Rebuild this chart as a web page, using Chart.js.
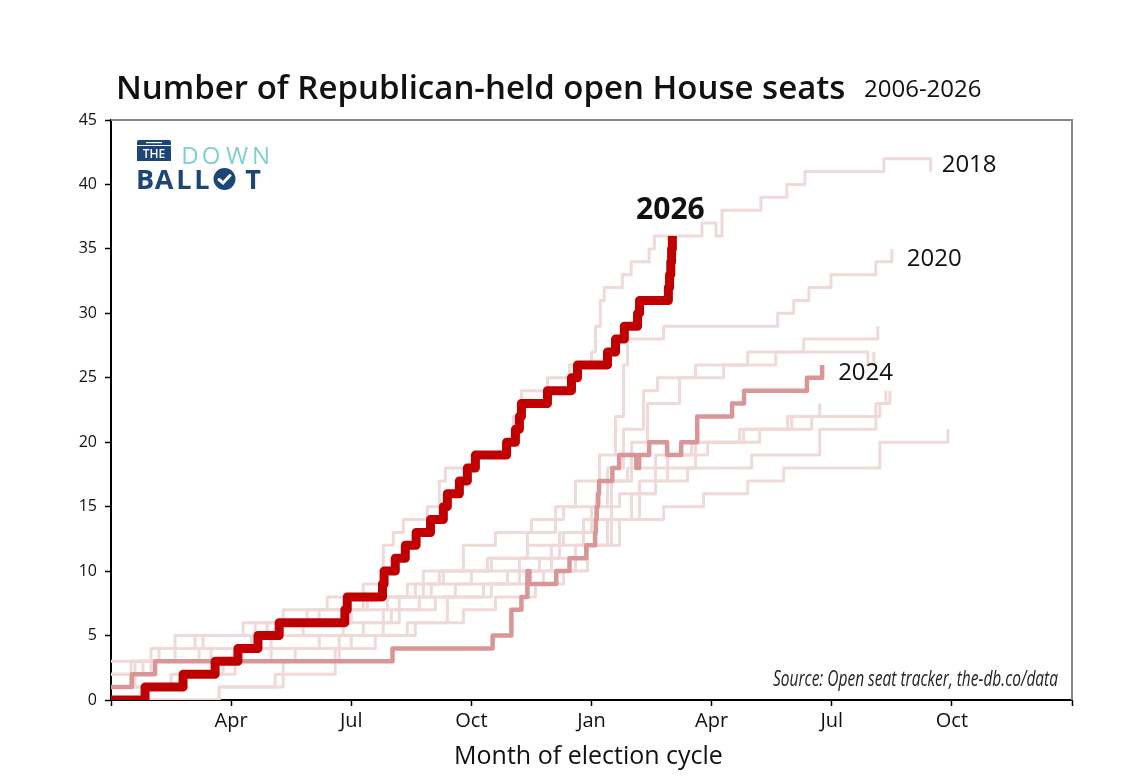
<!DOCTYPE html>
<html lang="en">
<head>
<meta charset="UTF-8">
<meta name="viewport" content="width=device-width, initial-scale=1.0">
<title>Number of Republican-held open House seats</title>
<script src="https://cdn.jsdelivr.net/npm/chart.js"></script>
<style>
    html, body { margin: 0; padding: 0; background: #fff; }
    #wrap { width: 1140px; height: 782px; }
</style>
</head>
<body>
<div id="wrap"><canvas id="openSeats"></canvas></div>
<script>
// x = months since Jan 1 of the odd year before the election, y = open seats from that month on
const monthTicks = ['', 'Apr', 'Jul', 'Oct', 'Jan', 'Apr', 'Jul', 'Oct', ''];

const seats2026 = [[0,0],[0.85,1],[1.8,2],[2.6,3],[3.17,4],[3.67,5],[4.2,6],[5.84,7],[5.9,8],[6.78,9],[6.82,10],[7.1,11],[7.35,12],[7.62,13],[7.98,14],[8.3,15],[8.4,16],[8.7,17],[8.9,18],[9.1,19],[9.88,20],[10.1,21],[10.2,22],[10.25,23],[10.9,24],[11.5,25],[11.65,26],[12.4,27],[12.6,28],[12.82,29],[13.15,30],[13.2,31],[13.92,32],[13.95,33],[13.98,34],[14.0,35],[14.02,36]];
const seats2024 = [[0,1],[0.52,2],[1.1,3],[7.03,4],[9.53,5],[10.0,7],[10.25,8],[10.4,10],[10.45,9],[11.12,10],[11.45,11],[11.87,12],[12.09,13],[12.11,14],[12.13,15],[12.16,16],[12.19,17],[12.52,18],[12.69,19],[13.12,18],[13.19,19],[13.44,20],[13.89,19],[14.24,20],[14.64,22],[15.51,23],[15.81,24],[17.38,25],[17.76,26]];
const seats2018 = [[0,1],[0.6,3],[1.2,4],[2.1,5],[3.6,6],[4.3,7],[5.4,8],[6.3,9],[6.8,12],[7.05,13],[7.3,14],[7.9,15],[8.2,17],[8.35,18],[9.15,19],[9.8,20],[10.05,22],[10.25,24],[10.9,25],[11.45,26],[12.0,27],[12.1,29],[12.22,31],[12.32,32],[12.77,33],[12.99,34],[13.44,35],[13.57,36],[14.76,37],[15.11,36],[15.26,38],[16.23,39],[16.88,40],[17.33,41],[19.3,42],[20.47,41]];
const seats2020 = [[0,2],[1.0,3],[2.2,4],[3.5,5],[4.8,6],[6.0,7],[6.9,8],[7.6,9],[8.3,10],[9.5,11],[10.4,13],[11.1,15],[11.6,17],[12.2,19],[12.6,22],[12.8,26],[12.9,28],[13.8,29],[16.65,30],[17.05,31],[17.43,32],[17.98,33],[19.1,34],[19.5,35]];
const seats2008 = [[0,1],[1.5,2],[2.8,3],[4.0,4],[5.2,5],[6.3,6],[7.2,8],[8.0,9],[9.0,10],[10.2,11],[11.2,13],[12.0,15],[12.4,18],[12.8,21],[13.3,24],[13.65,25],[14.6,26],[15.9,27],[17.3,28],[19.15,29]];
const seats2022 = [[0,0],[2.7,1],[4.1,2],[5.6,4],[6.6,5],[7.6,6],[8.4,8],[9.3,9],[10.2,10],[11.0,12],[11.8,14],[12.5,17],[13.0,20],[13.4,23],[14.2,25],[15.3,26],[16.6,27],[18.9,26],[19.05,27]];
const seats2012 = [[0,2],[0.8,3],[2.5,4],[4.0,5],[5.8,6],[7.0,7],[8.1,8],[9.5,9],[10.8,10],[11.6,12],[12.4,14],[13.2,17],[13.9,19],[14.9,20],[16.2,21],[17.0,22],[19.2,23],[19.45,24]];
const seats2010 = [[0,1],[1.8,2],[3.1,3],[4.6,4],[6.0,5],[7.4,6],[8.8,7],[9.6,8],[10.6,9],[11.3,10],[11.9,12],[12.5,14],[13.0,16],[13.6,18],[14.6,20],[15.7,21],[16.9,22],[17.7,23]];
const seats2006 = [[0,0],[2.7,1],[4.3,3],[5.7,5],[6.8,7],[7.7,8],[8.6,9],[9.9,10],[10.7,11],[11.6,12],[12.7,14],[13.8,15],[14.8,16],[15.9,17],[16.8,18],[19.2,20],[20.9,21]];
const seats2016 = [[0,1],[0.5,3],[1.6,5],[3.9,6],[5.2,7],[6.3,8],[7.8,10],[8.8,12],[9.6,13],[10.5,14],[11.3,15],[12.2,17],[12.9,18],[13.6,19],[14.5,20],[15.8,21],[17.5,22],[19.1,23],[19.35,24]];
const seats2014 = [[0,3],[1.0,4],[2.3,5],[3.3,6],[4.9,7],[6.4,8],[7.4,9],[8.2,10],[9.4,11],[10.4,12],[11.3,13],[12.1,15],[12.7,16],[13.6,17],[14.4,18],[16.0,19],[17.7,21],[19.1,22]];

const lightYears = ['2006', '2008', '2010', '2012', '2014', '2016', '2018', '2020', '2022'];
const lightSeries = [seats2006, seats2008, seats2010, seats2012, seats2014, seats2016, seats2018, seats2020, seats2022];

function toPoints(arr) {
    return arr.map(p => ({ x: p[0], y: p[1] }));
}

const datasets = [
    { label: '2026', data: toPoints(seats2026), borderColor: '#c00000', borderWidth: 9 },
    { label: '2024', data: toPoints(seats2024), borderColor: '#d99696', borderWidth: 4.5 }
];
lightSeries.forEach((s, i) => {
    datasets.push({ label: lightYears[i], data: toPoints(s), borderColor: '#f0d9d9', borderWidth: 3 });
});
datasets.forEach(d => {
    d.stepped = true;
    d.pointRadius = 0;
    d.fill = false;
    d.borderJoinStyle = 'round';
    d.borderCapStyle = 'butt';
});

const decorations = {
    id: 'decorations',
    afterDraw(chart) {
        const { ctx, chartArea: a, scales } = chart;
        const x = scales.x, y = scales.y;
        ctx.save();

        // frame on top and right
        ctx.strokeStyle = '#888';
        ctx.lineWidth = 2;
        ctx.beginPath();
        ctx.moveTo(a.left, a.top);
        ctx.lineTo(a.right, a.top);
        ctx.lineTo(a.right, a.bottom);
        ctx.stroke();

        // title
        ctx.fillStyle = '#111';
        ctx.textBaseline = 'alphabetic';
        ctx.textAlign = 'left';
        ctx.font = '600 33px "Open Sans"';
        ctx.fillText('Number of Republican-held open House seats', 116, 99);
        ctx.font = '24px "Open Sans"';
        ctx.fillText('2006-2026', 864, 97);

        // axis title
        ctx.textAlign = 'center';
        ctx.font = '25px "Open Sans"';
        ctx.fillText('Month of election cycle', (a.left + a.right) / 2 - 3, 764);

        // series labels
        const endOf = s => s[s.length - 1];
        ctx.textAlign = 'left';
        ctx.font = '24px "Open Sans"';
        let e = endOf(seats2018);
        ctx.fillText('2018', x.getPixelForValue(e[0]) + 11, y.getPixelForValue(e[1]) + 0);
        e = endOf(seats2020);
        ctx.fillText('2020', x.getPixelForValue(e[0]) + 15, y.getPixelForValue(e[1]) + 17);
        e = endOf(seats2024);
        ctx.fillText('2024', x.getPixelForValue(e[0]) + 16, y.getPixelForValue(e[1]) + 15);
        e = endOf(seats2026);
        ctx.textAlign = 'center';
        ctx.font = 'bold 30px "Open Sans"';
        ctx.fillText('2026', x.getPixelForValue(e[0]) - 2, y.getPixelForValue(e[1]) - 17);

        // source note, condensed italic
        ctx.font = 'italic 21px "Open Sans"';
        const src = 'Source: Open seat tracker, the-db.co/data';
        const w = ctx.measureText(src).width;
        const sx = 285 / w;
        ctx.save();
        ctx.translate(1058, 686);
        ctx.scale(sx, 1);
        ctx.textAlign = 'right';
        ctx.fillStyle = '#222';
        ctx.fillText(src, 0, 0);
        ctx.restore();

        // logo
        const navy = '#1c4677', teal = '#7fd0cc';
        ctx.fillStyle = navy;
        ctx.beginPath();
        ctx.roundRect(137, 140, 34, 5, [2, 2, 0, 0]);
        ctx.fill();
        ctx.fillRect(137, 146, 34, 15);
        ctx.fillStyle = '#fff';
        ctx.fillRect(146, 142, 16, 1.2);
        ctx.font = '600 12px "Open Sans"';
        ctx.textAlign = 'center';
        ctx.fillText('THE', 154, 158);

        ctx.fillStyle = teal;
        ctx.font = '24px "Open Sans"';
        ctx.textAlign = 'center';
        const down = ['D', 'O', 'W', 'N'];
        const downX = [190, 211, 237, 261];
        down.forEach((c, i) => ctx.fillText(c, downX[i], 164));

        ctx.fillStyle = navy;
        ctx.font = 'bold 27px "Open Sans"';
        const ball = ['B', 'A', 'L', 'L', 'T'];
        const ballX = [145, 164, 184, 202, 253];
        ball.forEach((c, i) => ctx.fillText(c, ballX[i], 189));
        ctx.beginPath();
        ctx.arc(224.5, 179, 11, 0, Math.PI * 2);
        ctx.fill();
        ctx.strokeStyle = '#fff';
        ctx.lineWidth = 3;
        ctx.lineCap = 'round';
        ctx.beginPath();
        ctx.moveTo(219, 179.5);
        ctx.lineTo(223, 183);
        ctx.lineTo(230, 175.5);
        ctx.stroke();

        ctx.restore();
    }
};

new Chart(document.getElementById('openSeats'), {
    type: 'line',
    data: { datasets: datasets },
    options: {
        responsive: true,
        maintainAspectRatio: false,
        animation: false,
        layout: { padding: { left: 0, top: 120, right: 68, bottom: 0 } },
        plugins: {
            legend: { display: false },
            tooltip: { enabled: false },
            title: { display: false }
        },
        scales: {
            x: {
                type: 'linear',
                min: 0,
                max: 24,
                afterFit: s => { s.height = 82; },
                ticks: {
                    stepSize: 3,
                    autoSkip: false,
                    maxRotation: 0,
                    padding: 3,
                    color: '#111',
                    font: { family: 'Open Sans', size: 20 },
                    callback: v => monthTicks[v / 3]
                },
                grid: { drawOnChartArea: false, drawTicks: true, tickLength: 6, tickColor: '#000', tickWidth: 1.5 },
                border: { color: '#000', width: 2 }
            },
            y: {
                min: 0,
                max: 45,
                afterFit: s => { s.width = 111; },
                ticks: {
                    stepSize: 5,
                    padding: 8,
                    color: '#111',
                    font: { family: 'Open Sans', size: 16 }
                },
                grid: { drawOnChartArea: false, drawTicks: true, tickLength: 6, tickColor: '#000', tickWidth: 1.5 },
                border: { color: '#000', width: 2 }
            }
        }
    },
    plugins: [decorations]
});
</script>
</body>
</html>
